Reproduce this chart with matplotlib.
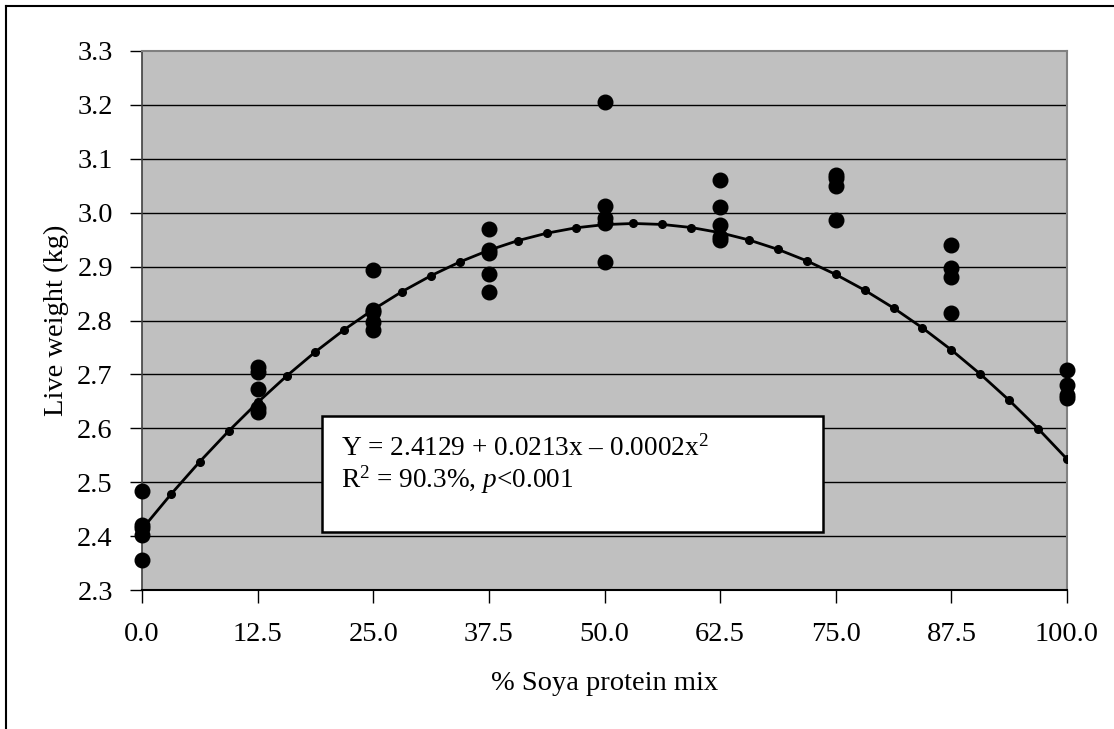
import numpy as np
import matplotlib
matplotlib.use("Agg")
import matplotlib.pyplot as plt
from matplotlib.lines import Line2D

plt.rcParams['font.family'] = ['Liberation Serif', 'DejaVu Serif']
plt.rcParams['mathtext.fontset'] = 'custom'
plt.rcParams['mathtext.rm'] = 'Liberation Serif'
plt.rcParams['mathtext.it'] = 'Liberation Serif:italic'

soya_levels = [0.0, 12.5, 25.0, 37.5, 50.0, 62.5, 75.0, 87.5, 100.0]
live_weight = [
    [2.483, 2.420, 2.415, 2.402, 2.356],
    [2.714, 2.705, 2.672, 2.637, 2.631],
    [2.893, 2.820, 2.815, 2.797, 2.783],
    [2.970, 2.930, 2.925, 2.887, 2.852],
    [3.206, 3.012, 2.990, 2.980, 2.909],
    [3.061, 3.011, 2.978, 2.955, 2.950],
    [3.070, 3.064, 3.050, 2.987],
    [2.941, 2.897, 2.880, 2.813],
    [2.709, 2.681, 2.661, 2.656],
]

# quadratic trendline from the chart's equation
coef_a, coef_b, coef_c = 2.4129, 0.0213, -0.0002
fit_x = np.linspace(0, 100, 33)
fit_y = coef_a + coef_b * fit_x + coef_c * fit_x ** 2

x_ticks = [0.0, 12.5, 25.0, 37.5, 50.0, 62.5, 75.0, 87.5, 100.0]
y_ticks = [2.3, 2.4, 2.5, 2.6, 2.7, 2.8, 2.9, 3.0, 3.1, 3.2, 3.3]

fig = plt.figure(figsize=(11.14, 7.29), dpi=100)
ax = fig.add_axes([142 / 1114, 1 - 590 / 729, (1067 - 142) / 1114, (590 - 51) / 729])
ax.set_facecolor('#C0C0C0')

for yv in y_ticks[1:-1]:
    ax.axhline(yv, color='black', lw=1.0, zorder=1)

ax.plot(fit_x, fit_y, color='black', lw=2, marker='o', ms=5.5, zorder=3)

for xv, ys in zip(soya_levels, live_weight):
    ax.plot([xv] * len(ys), ys, ls='none', marker='o', ms=10.5,
            color='black', zorder=4, clip_on=False)

ax.set_xlim(0, 100)
ax.set_ylim(2.3, 3.3)
ax.set_xticks(x_ticks)
ax.set_xticklabels([f'{v:.1f}' for v in x_ticks])
ax.set_yticks(y_ticks)
ax.set_yticklabels([f'{v:.1f}' for v in y_ticks])
ax.tick_params(axis='both', direction='out', length=9, width=1, labelsize=20.5,
               color='black')
ax.tick_params(axis='x', pad=14)
ax.tick_params(axis='y', pad=12)

for side in ['top', 'right']:
    ax.spines[side].set_color('#808080')
    ax.spines[side].set_linewidth(1.5)
ax.spines['left'].set_color('#404040')
ax.spines['bottom'].set_color('black')
ax.spines['left'].set_linewidth(1.2)
ax.spines['bottom'].set_linewidth(1.5)

ax.set_xlabel('% Soya protein mix', fontsize=20.5, labelpad=17)
ax.set_ylabel('Live weight (kg)', fontsize=20.5, labelpad=6)

# equation box
box = plt.Rectangle((322 / 1114, 1 - 532 / 729), (823 - 322) / 1114, (532 - 416) / 729,
                    transform=fig.transFigure, facecolor='white', edgecolor='black',
                    lw=1.8, zorder=5)
fig.patches.append(box)
fig.text(341 / 1114, 1 - 456 / 729, r'Y = 2.4129 + 0.0213x – 0.0002x$^\mathrm{2}$',
         fontsize=19.6, va='baseline', ha='left', zorder=6)
fig.text(341 / 1114, 1 - 488 / 729, r'R$^\mathrm{2}$ = 90.3%, $\mathit{p}$<0.001',
         fontsize=19.6, va='baseline', ha='left', zorder=6)

# outer chart border (only left/top visible)
fig.add_artist(Line2D([5.5 / 1114, 5.5 / 1114], [0, 1 - 5.5 / 729],
                      transform=fig.transFigure, color='black', lw=1.5))
fig.add_artist(Line2D([5.5 / 1114, 1], [1 - 5.5 / 729, 1 - 5.5 / 729],
                      transform=fig.transFigure, color='black', lw=1.5))

fig.savefig('out.png', dpi=100)
